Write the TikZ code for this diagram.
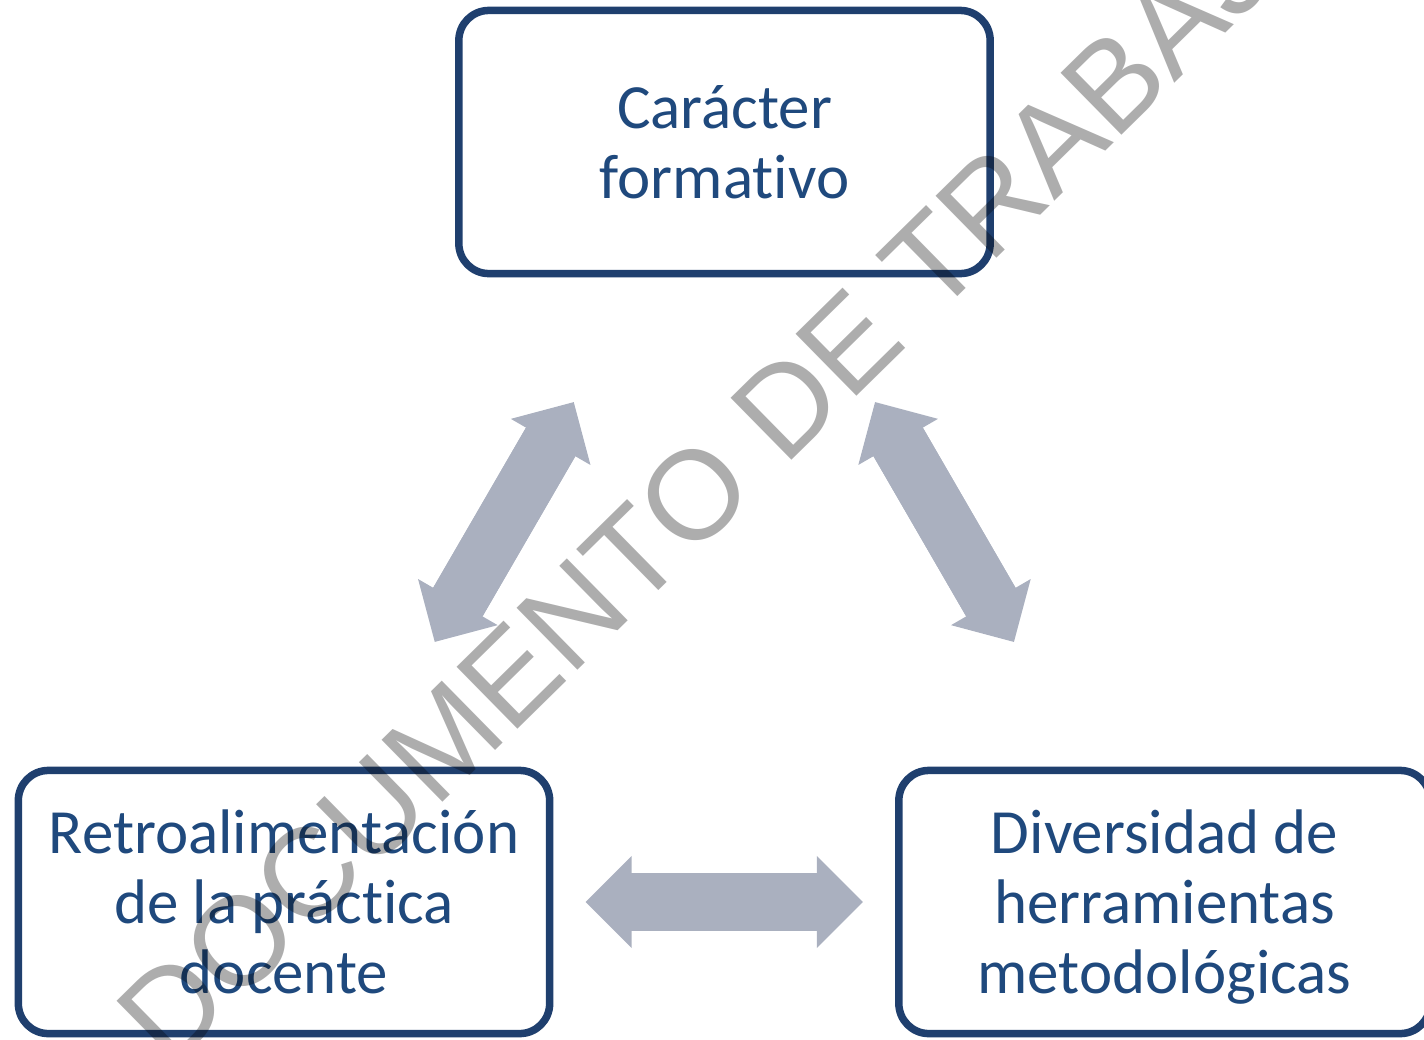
\documentclass[tikz,border=0pt]{standalone}
\usepackage{fontspec}
\usepackage{tikz}
\usetikzlibrary{calc, arrows.meta, shadows}
\setmainfont{Carlito}[Ligatures=NoCommon]
\newfontfamily\markfont{Liberation Sans}
\definecolor{boxline}{HTML}{1F3F6E}
\definecolor{boxtext}{HTML}{1F497D}
\definecolor{linkfill}{HTML}{AAB0BF}

\begin{document}
\begin{tikzpicture}[x=0.01cm, y=-0.01cm,
    card/.style={draw=boxline, line width=0.075cm, fill=white, rounded corners=0.3cm,
      minimum width=5.31cm, minimum height=2.63cm, inner sep=0pt, align=center,
      text=boxtext, text depth=0pt, font=\fontsize{17.9pt}{19.9pt}\selectfont,
      drop shadow={opacity=0.18, shadow xshift=0.02cm, shadow yshift=-0.035cm}},
    link/.style={draw=linkfill, line width=0.57cm, <->,
      >={Triangle[length=0.46cm, width=0.92cm, line width=0pt]},
      preaction={draw=linkfill, line width=0.57cm, -, shorten <=0.3cm, shorten >=0.3cm}},
    stamp/.style={font=\markfont\fontsize{35.9pt}{40pt}\selectfont, text=black,
      text opacity=0.32, rotate=44.5, anchor=base, inner sep=0pt}]

        \useasboundingbox (0, 0) rectangle (1424, 1039);

        \node[card] (top) at (724.5, 142) {Carácter\\formativo};
        \node[card] (left) at (284, 902) {Retroalimentación\\de la práctica\\docente};
        \node[card] (right) at (1164.5, 902) {Diversidad de\\herramientas\\metodológicas};

        \coordinate (tl) at ($(top.center)!0.5!(left.center)$);
        \coordinate (tr) at ($(top.center)!0.5!(right.center)$);
        \coordinate (lr) at ($(left.center)!0.5!(right.center)$);

        \draw[link] ($(tl)!1.385cm!(left.center)$) -- ($(tl)!1.385cm!(top.center)$);
        \draw[link] ($(tr)!1.385cm!(top.center)$) -- ($(tr)!1.385cm!(right.center)$);
        \draw[link] ($(lr)!1.385cm!(left.center)$) -- ($(lr)!1.385cm!(right.center)$);

        \node[stamp] (mark) at (760, 491) {DOCUMENTO DE TRABAJO};

      \end{tikzpicture}
\end{document}
